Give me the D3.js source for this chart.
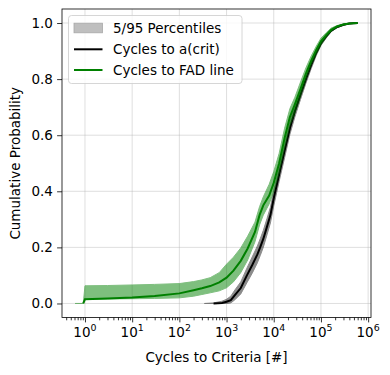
<!DOCTYPE html>
<html>
<head>
<meta charset="utf-8">
<script src="https://cdn.jsdelivr.net/npm/d3@7"></script>
<style>
  body { margin: 0; background: #fff; }
  text { font-family: "DejaVu Sans", sans-serif; fill: #000; }
</style>
</head>
<body>
<svg id="chart" width="390" height="375"></svg>
<script>
// cycles to FAD line: median CDF and 5/95 percentile band
const fadCycles = [0.62, 0.92, 1, 3, 10, 30, 100, 200, 300, 450, 700, 1000, 1400, 2000, 2800, 4000, 5000, 6000, 8000, 10000,
  13000, 17000, 22000, 28000, 37000, 48000, 62000, 80000, 100000, 130000, 165000, 220000, 300000, 400000, 600000];
const fadMedian = [null, 0, 0.015, 0.018, 0.021, 0.027, 0.036, 0.047, 0.054, 0.062, 0.075, 0.092, 0.117, 0.152, 0.196, 0.255, 0.315, 0.35, 0.385, 0.43,
  0.5, 0.59, 0.665, 0.71, 0.765, 0.82, 0.865, 0.905, 0.935, 0.958, 0.976, 0.988, 0.995, 0.998, 1.0];
const fadP5 = [0, 0, 0.015, 0.016, 0.017, 0.018, 0.02, 0.026, 0.032, 0.038, 0.045, 0.056, 0.077, 0.11, 0.155, 0.22, 0.28, 0.315, 0.355, 0.4,
  0.465, 0.555, 0.635, 0.68, 0.74, 0.8, 0.85, 0.89, 0.922, 0.95, 0.97, 0.984, 0.993, 0.997, 1.0];
const fadP95 = [0, 0, 0.063, 0.064, 0.066, 0.068, 0.071, 0.078, 0.084, 0.092, 0.11, 0.14, 0.165, 0.198, 0.24, 0.29, 0.345, 0.38, 0.425, 0.47,
  0.535, 0.625, 0.695, 0.735, 0.79, 0.84, 0.882, 0.918, 0.946, 0.966, 0.982, 0.991, 0.997, 0.999, 1.0];

// cycles to a(crit)
const critCycles = [340, 530, 800, 1000, 1230, 1500, 2000, 2700, 3500, 4500, 5200, 6000, 7200, 8500, 10000,
  13000, 17000, 22000, 28000, 37000, 48000, 62000, 80000, 100000, 130000, 165000, 220000, 300000, 400000, 600000];
const critMedian = [null, 0, 0.002, 0.006, 0.012, 0.03, 0.055, 0.1, 0.137, 0.175, 0.202, 0.23, 0.274, 0.315, 0.375,
  0.46, 0.545, 0.625, 0.685, 0.745, 0.8, 0.85, 0.895, 0.928, 0.953, 0.973, 0.986, 0.994, 0.998, 1.0];
const critP5 = [0, 0, 0, 0.0, 0.002, 0.013, 0.034, 0.074, 0.108, 0.145, 0.172, 0.2, 0.245, 0.287, 0.348,
  0.435, 0.52, 0.603, 0.665, 0.728, 0.785, 0.837, 0.885, 0.92, 0.947, 0.969, 0.983, 0.992, 0.997, 1.0];
const critP95 = [0, 0.002, 0.008, 0.015, 0.026, 0.048, 0.077, 0.126, 0.166, 0.205, 0.232, 0.26, 0.303, 0.343, 0.402,
  0.485, 0.57, 0.647, 0.705, 0.762, 0.815, 0.863, 0.905, 0.936, 0.959, 0.977, 0.989, 0.996, 0.999, 1.0];

const xTickExps = [0, 1, 2, 3, 4, 5, 6];
const yTicks = [0, 0.2, 0.4, 0.6, 0.8, 1.0];
const legendLabels = ['5/95 Percentiles', 'Cycles to a(crit)', 'Cycles to FAD line'];

const svg = d3.select('#chart');
const margin = { top: 9, right: 19, bottom: 57.5, left: 62 };
const width = 390, height = 375;
const fs = 13.5;

const x = d3.scaleLog()
    .domain([0.326, 1.15e6])
    .range([margin.left, width - margin.right]);

const y = d3.scaleLinear()
    .domain([-0.05, 1.05])
    .range([height - margin.bottom, margin.top]);

svg.append('clipPath').attr('id', 'clip')
    .append('rect')
    .attr('x', margin.left).attr('y', margin.top)
    .attr('width', width - margin.left - margin.right)
    .attr('height', height - margin.top - margin.bottom);

// grid
const grid = svg.append('g').attr('stroke', '#b0b0b0').attr('stroke-opacity', 0.5).attr('stroke-width', 0.8);
grid.selectAll('.gx').data(xTickExps).join('line')
    .attr('x1', d => x(Math.pow(10, d))).attr('x2', d => x(Math.pow(10, d)))
    .attr('y1', margin.top).attr('y2', height - margin.bottom);
grid.selectAll('.gy').data(yTicks).join('line')
    .attr('x1', margin.left).attr('x2', width - margin.right)
    .attr('y1', d => y(d)).attr('y2', d => y(d));

const plot = svg.append('g').attr('clip-path', 'url(#clip)');

const band = (xs, lo, hi) => d3.area()
    .x((d, i) => x(xs[i]))
    .y0((d, i) => y(lo[i]))
    .y1((d, i) => y(hi[i]))(xs);

const line = (xs, ys) => d3.line()
    .defined((d, i) => ys[i] !== null)
    .x((d, i) => x(xs[i]))
    .y((d, i) => y(ys[i]))(xs);

plot.append('path')
    .attr('d', band(critCycles, critP5, critP95))
    .attr('fill', '#000').attr('stroke', '#000').attr('stroke-width', 1)
    .attr('opacity', 0.45);

plot.append('path')
    .attr('d', line(critCycles, critMedian))
    .attr('fill', 'none').attr('stroke', '#000').attr('stroke-width', 2);

plot.append('path')
    .attr('d', band(fadCycles, fadP5, fadP95))
    .attr('fill', '#008000').attr('stroke', '#008000').attr('stroke-width', 1)
    .attr('opacity', 0.5);

plot.append('path')
    .attr('d', line(fadCycles, fadMedian))
    .attr('fill', 'none').attr('stroke', '#008000').attr('stroke-width', 2);

// axes
const minor = [];
for (let e = -1; e <= 6; e++) {
  for (let m = 2; m <= 9; m++) {
    const v = m * Math.pow(10, e);
    if (v > x.domain()[0] && v < x.domain()[1]) minor.push(v);
  }
}

const xAxis = svg.append('g')
    .attr('transform', `translate(0,${height - margin.bottom})`)
    .call(d3.axisBottom(x).tickValues(xTickExps.map(d => Math.pow(10, d))).tickFormat('').tickSize(4.9).tickSizeOuter(0));
xAxis.append('g')
    .call(d3.axisBottom(x).tickValues(minor).tickFormat('').tickSize(2.8).tickSizeOuter(0));
xAxis.selectAll('.domain').remove();
xAxis.selectAll('line').attr('stroke', '#000').attr('stroke-width', 0.8);

const xLabels = svg.append('g');
xTickExps.forEach(e => {
  const t = xLabels.append('text')
      .attr('x', x(Math.pow(10, e)))
      .attr('y', height - margin.bottom + 19)
      .attr('text-anchor', 'middle')
      .attr('font-size', fs);
  t.append('tspan').text('10');
  t.append('tspan').attr('dy', -6).attr('font-size', fs * 0.7).text(e);
});

const yAxis = svg.append('g')
    .attr('transform', `translate(${margin.left},0)`)
    .call(d3.axisLeft(y).tickValues(yTicks).tickFormat(d3.format('.1f')).tickSize(4.9).tickPadding(4.2));
yAxis.selectAll('.domain').remove();
yAxis.selectAll('line').attr('stroke', '#000').attr('stroke-width', 0.8);
yAxis.selectAll('text').attr('font-size', fs).attr('font-family', '"DejaVu Sans", sans-serif').attr('fill', '#000');

// frame
svg.append('rect')
    .attr('x', margin.left).attr('y', margin.top)
    .attr('width', width - margin.left - margin.right)
    .attr('height', height - margin.top - margin.bottom)
    .attr('fill', 'none').attr('stroke', '#000').attr('stroke-width', 0.8);

svg.append('text')
    .attr('x', (margin.left + width - margin.right) / 2)
    .attr('y', 362)
    .attr('text-anchor', 'middle')
    .attr('font-size', fs)
    .text('Cycles to Criteria [#]');

svg.append('text')
    .attr('transform', `translate(20,${(margin.top + height - margin.bottom) / 2}) rotate(-90)`)
    .attr('text-anchor', 'middle')
    .attr('font-size', fs)
    .text('Cumulative Probability');

// legend
const legend = svg.append('g');
legend.append('rect')
    .attr('x', 68.5).attr('y', 15.5).attr('width', 173.5).attr('height', 68).attr('rx', 3)
    .attr('fill', '#fff').attr('fill-opacity', 0.8).attr('stroke', '#cccccc').attr('stroke-width', 0.8);
const rowY = [28, 49.3, 70];
legend.append('rect')
    .attr('x', 74).attr('y', rowY[0] - 4.8).attr('width', 28.5).attr('height', 9.6)
    .attr('fill', '#bfbfbf').attr('stroke', '#a8a8a8').attr('stroke-width', 0.8);
legend.append('line')
    .attr('x1', 74).attr('x2', 102.5).attr('y1', rowY[1]).attr('y2', rowY[1])
    .attr('stroke', '#000').attr('stroke-width', 2);
legend.append('line')
    .attr('x1', 74).attr('x2', 102.5).attr('y1', rowY[2]).attr('y2', rowY[2])
    .attr('stroke', '#008000').attr('stroke-width', 2);
legend.selectAll('.lt').data(legendLabels).join('text')
    .attr('x', 113)
    .attr('y', (d, i) => rowY[i] + 5)
    .attr('font-size', fs)
    .text(d => d);
</script>
</body>
</html>
